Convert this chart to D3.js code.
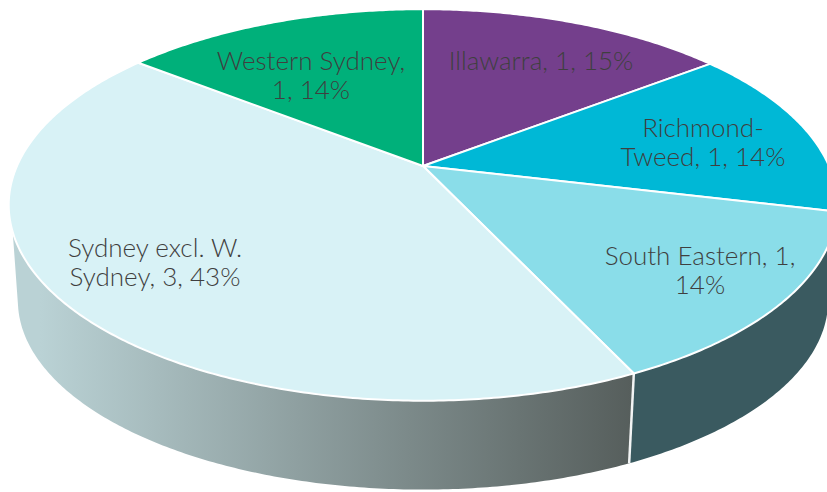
<!DOCTYPE html>
<html>
<head>
<meta charset="utf-8">
<script src="https://cdn.jsdelivr.net/npm/d3@7"></script>
<style>
  body { margin: 0; background: #fff; overflow: hidden; }
  svg { display: block; }
  text { font-family: Lato, sans-serif; font-size: 26px; font-weight: 300; fill: #3f3f3f; text-anchor: middle; }
</style>
</head>
<body>
<div class="canvas"></div>
<script>
const categories = ['Illawarra', 'Richmond-Tweed', 'South Eastern', 'Sydney excl. W. Sydney', 'Western Sydney'];
// labels round these to 1, 1, 1, 3, 1; the slice angles show they are not quite equal
const values = [1.02, 0.99, 1.0, 2.98, 1.01];
const percents = [15, 14, 14, 43, 14];
const colors = ['#743f8c', '#00b8d6', '#8adde9', '#d8f2f6', '#00b07a'];

// label text broken the way the chart wraps it
const labelLines = [
    ['Illawarra, 1, 15%'],
    ['Richmond-', 'Tweed, 1, 14%'],
    ['South Eastern, 1,', '14%'],
    ['Sydney excl. W.', 'Sydney, 3, 43%'],
    ['Western Sydney,', '1, 14%'],
];
const labelCenters = [[541, 61], [703, 142], [700, 270], [155, 262], [311, 75]];
const lineHeight = 29;

const dims = {width: 827, height: 492};
const tilt = 0.199; // perspective strength
const topFace = {cx: 423, cy: 166, rx: 406, ry: 188};
const bottomFace = {cx: 423, cy: 263, rx: 397, ry: 181.5};

const project = (face, a) => {
    const u = Math.sin(a), v = -Math.cos(a);
    const w = 1 - tilt * v;
    return [face.cx + face.rx * u / w, face.cy + face.ry * v / w];
};

const rim = (face, a0, a1) => {
    const n = Math.max(2, Math.ceil(Math.abs(a1 - a0) / 0.01));
    return d3.range(n + 1).map(i => project(face, a0 + (a1 - a0) * i / n));
};

const line = d3.line();

const svg = d3.select('.canvas')
    .append('svg')
    .attr('width', dims.width)
    .attr('height', dims.height);

const grad = svg.append('defs').append('linearGradient')
    .attr('id', 'sideGrad')
    .attr('gradientUnits', 'userSpaceOnUse')
    .attr('x1', 40).attr('x2', 632).attr('y1', 0).attr('y2', 0);
grad.append('stop').attr('offset', '0%').attr('stop-color', '#bad2d5');
grad.append('stop').attr('offset', '100%').attr('stop-color', '#565e5c');

const pie = d3.pie().sort(null);
const arcs = pie(values);

// side wall: only the two slices facing the viewer show one
const topSilhouette = 250.8 * Math.PI / 180;
const bottomSilhouette = 256 * Math.PI / 180;
const sideFill = {2: '#3a5a60', 3: 'url(#sideGrad)'};

svg.append('g').selectAll('path')
    .data(arcs.filter(d => sideFill[d.index]))
    .enter()
    .append('path')
    .attr('d', d => line([
        ...rim(topFace, d.startAngle, Math.min(d.endAngle, topSilhouette)),
        ...rim(bottomFace, Math.min(d.endAngle, bottomSilhouette), d.startAngle),
    ]) + 'Z')
    .attr('fill', d => sideFill[d.index]);

// seam between the two walls
const seam = arcs[2].endAngle;
svg.append('path')
    .attr('d', line([project(topFace, seam), project(bottomFace, seam)]))
    .attr('stroke', '#f2f4f4')
    .attr('stroke-width', 2.5)
    .attr('fill', 'none');

svg.append('g').selectAll('path')
    .data(arcs)
    .enter()
    .append('path')
    .attr('d', d => line([[topFace.cx, topFace.cy], ...rim(topFace, d.startAngle, d.endAngle)]) + 'Z')
    .attr('fill', (d, i) => colors[i])
    .attr('stroke', 'white')
    .attr('stroke-width', 2)
    .attr('stroke-linejoin', 'round');

const labels = svg.append('g').selectAll('text')
    .data(labelLines)
    .enter()
    .append('text')
    .attr('data-category', (d, i) => categories[i])
    .attr('data-percent', (d, i) => percents[i]);

labels.selectAll('tspan')
    .data((d, i) => d.map((t, j) => ({
        t,
        x: labelCenters[i][0],
        y: labelCenters[i][1] + (j - (d.length - 1) / 2) * lineHeight + 9,
    })))
    .enter()
    .append('tspan')
    .attr('x', d => d.x)
    .attr('y', d => d.y)
    .text(d => d.t);
</script>
</body>
</html>
